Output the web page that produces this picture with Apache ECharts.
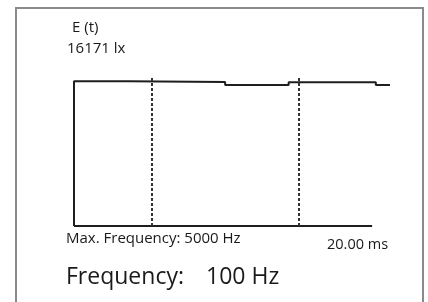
<!DOCTYPE html>
<html>
<head>
<meta charset="utf-8">
<script src="https://cdn.jsdelivr.net/npm/echarts@6/dist/echarts.min.js"></script>
<style>
html,body{margin:0;padding:0;background:#fff;}
#c{width:428px;height:302px;}
</style>
</head>
<body>
<div id="c"></div>
<script>
// Data (time in ms, illuminance in lx)
const timeMs = [0, 0, 3.66, 3.66, 10.14, 10.14, 14.4, 14.4, 20.25, 20.25, 21.2];
const illumLx = [0, 16020, 16020, 16112, 15945, 15612, 15612, 15912, 15912, 15612, 15612];
const cursorMs = [5.22, 15.05];
const baselineMs = [0, 20];
const xMin = 0, xMax = 21.2;
const yMax = 16500;
const titleText = 'E (t)';
const peakText = '16171 lx';
const maxFreqText = 'Max. Frequency: 5000 Hz';
const spanText = '20.00 ms';
const freqLabel = 'Frequency:';
const freqValue = '100 Hz';

const chart = echarts.init(document.getElementById('c'), null, {renderer: 'canvas'});
const FONT = '"Open Sans"';
const TXT = '#1a1a1a';
chart.setOption({
  animation: false,
  backgroundColor: '#ffffff',
  grid: {left: 74, right: 38, top: 77, bottom: 76},
  xAxis: {
    type: 'value', min: xMin, max: xMax,
    axisLine: {show: false}, axisTick: {show: false}, axisLabel: {show: false}, splitLine: {show: false}
  },
  yAxis: {
    type: 'value', min: 0, max: yMax,
    axisLine: {show: false}, axisTick: {show: false}, axisLabel: {show: false}, splitLine: {show: false}
  },
  series: [{
    type: 'line',
    data: baselineMs.map(t => [t, 0]),
    showSymbol: false, symbol: 'none',
    lineStyle: {color: '#1e1e1e', width: 2}
  }, {
    type: 'line',
    data: timeMs.map((t, i) => [t, illumLx[i]]),
    showSymbol: false, symbol: 'none',
    lineStyle: {color: '#1e1e1e', width: 2},
    markLine: {
      silent: true, symbol: 'none', label: {show: false},
      lineStyle: {color: '#333', width: 2, type: [3, 2]},
      data: cursorMs.map(v => ({xAxis: v}))
    }
  }],
  graphic: [
    {type: 'rect', shape: {x: 16, y: 8, width: 407, height: 320},
     style: {fill: 'none', stroke: '#8a8a8a', lineWidth: 2}},
    {type: 'text', left: 72, top: 20, style: {text: titleText, font: '15px ' + FONT, fill: TXT}},
    {type: 'text', left: 67, top: 41, style: {text: peakText, font: '15px ' + FONT, fill: TXT}},
    {type: 'text', left: 66, top: 231, style: {text: maxFreqText, font: '15px ' + FONT, fill: TXT}},
    {type: 'text', left: 327, top: 237, style: {text: spanText, font: '14.5px ' + FONT, fill: TXT}},
    {type: 'text', left: 66, top: 266, style: {text: freqLabel, font: '23px ' + FONT, fill: TXT}},
    {type: 'text', left: 206, top: 266, style: {text: freqValue, font: '23px ' + FONT, fill: TXT}}
  ]
});
</script>
</body>
</html>
